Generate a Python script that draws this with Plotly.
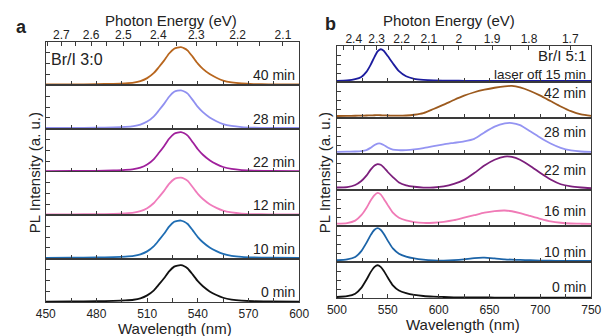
import plotly.graph_objects as go

W, H = 609, 336

# ---------------- Panel a data (Br/I 3:0) ----------------
WL_A = [450, 465, 480, 490, 497, 502, 506, 510, 514, 517, 520, 523, 526, 528,
        530, 532, 534, 537, 540, 543, 547, 551, 555, 560, 566, 573, 582, 600]
A_LABELS = ["40 min", "28 min", "22 min", "12 min", "10 min", "0 min"]
A_COLORS = ["#b8661e", "#9090f0", "#a0209c", "#f07cbc", "#1f6db3", "#111111"]
A_40 = [0.02, 0.022, 0.027, 0.035, 0.046, 0.063, 0.097, 0.166, 0.287, 0.424, 0.570, 0.734, 0.846, 0.871,
        0.880, 0.854, 0.803, 0.656, 0.502, 0.381, 0.261, 0.175, 0.110, 0.067, 0.042, 0.029, 0.023, 0.021]
A_28 = [0.015, 0.018, 0.022, 0.030, 0.041, 0.059, 0.093, 0.163, 0.285, 0.424, 0.572, 0.737, 0.850, 0.876,
        0.885, 0.859, 0.807, 0.659, 0.502, 0.380, 0.259, 0.172, 0.106, 0.063, 0.037, 0.024, 0.018, 0.016]
A_22 = [0.02, 0.023, 0.027, 0.035, 0.047, 0.065, 0.101, 0.173, 0.299, 0.443, 0.596, 0.767, 0.884, 0.911,
        0.920, 0.893, 0.839, 0.686, 0.524, 0.398, 0.272, 0.182, 0.115, 0.070, 0.043, 0.029, 0.024, 0.021]
A_12 = [0.02, 0.023, 0.027, 0.034, 0.046, 0.063, 0.097, 0.165, 0.284, 0.420, 0.564, 0.726, 0.836, 0.862,
        0.870, 0.845, 0.794, 0.649, 0.496, 0.377, 0.258, 0.173, 0.109, 0.067, 0.041, 0.029, 0.023, 0.021]
A_10 = [0.02, 0.022, 0.028, 0.036, 0.047, 0.064, 0.098, 0.168, 0.290, 0.428, 0.574, 0.738, 0.850, 0.873,
        0.880, 0.852, 0.800, 0.652, 0.499, 0.379, 0.259, 0.174, 0.109, 0.066, 0.041, 0.028, 0.022, 0.020]
A_0 = [0.01, 0.012, 0.017, 0.025, 0.036, 0.052, 0.085, 0.153, 0.270, 0.405, 0.548, 0.707, 0.816, 0.842,
       0.850, 0.825, 0.774, 0.632, 0.480, 0.363, 0.245, 0.161, 0.098, 0.056, 0.031, 0.018, 0.013, 0.011]
A_SERIES = [A_40, A_28, A_22, A_12, A_10, A_0]

# ---------------- Panel b data (Br/I 5:1) ----------------
WL_B = [500, 510, 518, 524, 529, 533, 537, 540, 543, 546, 550, 555, 561, 568, 576, 585, 595,
        605, 615, 625, 635, 645, 655, 665, 672, 680, 690, 700, 710, 720, 730, 740, 750]
B_LABELS = ["laser off 15 min", "42 min", "28 min", "22 min", "16 min", "10 min", "0 min"]
B_COLORS = ["#1c1c9e", "#9c5a1e", "#9494f2", "#7c1f7c", "#f07ab6", "#1c64a8", "#111111"]
B_OFF = [0.03, 0.045, 0.08, 0.14, 0.28, 0.47, 0.70, 0.85, 0.91, 0.87, 0.72, 0.52, 0.30, 0.16, 0.09, 0.06, 0.045,
         0.04, 0.036, 0.034, 0.033, 0.032, 0.032, 0.031, 0.031, 0.031, 0.030, 0.030, 0.030, 0.030, 0.030, 0.030, 0.030]
B_42 = [0.055, 0.058, 0.062, 0.066, 0.07, 0.074, 0.077, 0.078, 0.077, 0.074, 0.07, 0.066, 0.064, 0.07, 0.09, 0.135, 0.25,
        0.37, 0.50, 0.62, 0.715, 0.785, 0.84, 0.88, 0.89, 0.85, 0.75, 0.62, 0.47, 0.32, 0.19, 0.10, 0.06]
B_28 = [0.06, 0.065, 0.07, 0.08, 0.11, 0.17, 0.25, 0.29, 0.29, 0.25, 0.18, 0.12, 0.105, 0.11, 0.13, 0.165, 0.22,
        0.27, 0.31, 0.35, 0.42, 0.60, 0.76, 0.85, 0.86, 0.80, 0.63, 0.45, 0.29, 0.17, 0.10, 0.07, 0.06]
B_22 = [0.07, 0.08, 0.14, 0.25, 0.40, 0.56, 0.68, 0.72, 0.70, 0.63, 0.50, 0.36, 0.21, 0.13, 0.09, 0.065, 0.07,
        0.10, 0.17, 0.28, 0.47, 0.68, 0.84, 0.93, 0.92, 0.84, 0.67, 0.47, 0.29, 0.16, 0.10, 0.07, 0.05]
B_16 = [0.065, 0.08, 0.15, 0.30, 0.50, 0.70, 0.86, 0.92, 0.88, 0.76, 0.58, 0.37, 0.23, 0.155, 0.11, 0.085, 0.09,
        0.115, 0.16, 0.23, 0.30, 0.37, 0.415, 0.43, 0.41, 0.36, 0.28, 0.20, 0.13, 0.09, 0.07, 0.063, 0.06]
B_10 = [0.048, 0.071, 0.139, 0.303, 0.53, 0.74, 0.895, 0.94, 0.895, 0.785, 0.594, 0.376, 0.23, 0.15, 0.10, 0.065, 0.045,
        0.04, 0.05, 0.075, 0.11, 0.12, 0.10, 0.075, 0.065, 0.058, 0.048, 0.04, 0.035, 0.032, 0.03, 0.03, 0.03]
B_0 = [0.028, 0.05, 0.118, 0.28, 0.505, 0.712, 0.865, 0.91, 0.865, 0.757, 0.568, 0.352, 0.208, 0.136, 0.087, 0.055, 0.037,
       0.028, 0.019, 0.017, 0.015, 0.014, 0.013, 0.012, 0.012, 0.011, 0.011, 0.010, 0.010, 0.010, 0.010, 0.010, 0.010]
B_SERIES = [B_OFF, B_42, B_28, B_22, B_16, B_10, B_0]

# Photon-energy tick values (eV)
E_A = [2.75, 2.7, 2.65, 2.6, 2.55, 2.5, 2.45, 2.4, 2.35, 2.3, 2.25, 2.2, 2.15, 2.1]
E_A_TXT = ["", "2.7", "", "2.6", "", "2.5", "", "2.4", "", "2.3", "", "2.2", "", "2.1"]
E_B = [2.45, 2.4, 2.35, 2.3, 2.25, 2.2, 2.15, 2.1, 2.05, 2.0, 1.95, 1.9, 1.85, 1.8, 1.75, 1.7]
E_B_TXT = ["", "2.4", "", "2.3", "", "2.2", "", "2.1", "", "2", "", "1.9", "", "1.8", "", "1.7"]
HC = 1239.84

FONT = "Liberation Sans, Arial, sans-serif"
AXC = "#3a3a3a"
TXT = "#222222"


def fx(p):
    return p / W


def fy(p):
    return 1 - p / H


fig = go.Figure()
layout = dict(width=W, height=H, autosize=False, margin=dict(l=0, r=0, t=0, b=0, pad=0),
              paper_bgcolor="white", plot_bgcolor="white", showlegend=False,
              font=dict(family=FONT, size=12, color=TXT))

panels = [
    dict(xl=37, xr=299, top=42, bot=302, rng=[450, 600], dtick=30, minor=15, tick0=450,
         series=A_SERIES, colors=A_COLORS, wl=WL_A),
    dict(xl=338, xr=601, top=46, bot=298, rng=[500, 750], dtick=50, minor=25, tick0=500,
         series=B_SERIES, colors=B_COLORS, wl=WL_B),
]

k = 0
first_axes = []
row_bounds = []
for p in panels:
    n = len(p["series"])
    h = (p["bot"] - p["top"]) / n
    bounds = []
    for i, ys in enumerate(p["series"]):
        k += 1
        t = p["top"] + i * h
        b = t + h
        bounds.append((t, b))
        if i == 0:
            first_axes.append(k)
        xa = "xaxis" if k == 1 else f"xaxis{k}"
        ya = "yaxis" if k == 1 else f"yaxis{k}"
        layout[xa] = dict(domain=[fx(p["xl"]), fx(p["xr"])], anchor=f"y{k}", range=p["rng"],
                          showline=True, linecolor=AXC, linewidth=1.3, mirror=True,
                          ticks="inside", ticklen=4, tickwidth=1, tickcolor=AXC,
                          tick0=p["tick0"], dtick=p["dtick"],
                          minor=dict(tick0=p["tick0"], dtick=p["minor"], ticks="inside", ticklen=4,
                                     tickwidth=1, tickcolor=AXC, showgrid=False),
                          showgrid=False, zeroline=False,
                          showticklabels=(i == n - 1), tickfont=dict(size=12, color=TXT))
        layout[ya] = dict(domain=[fy(b), fy(t)], anchor=f"x{k}", range=[0, 1],
                          showline=True, linecolor=AXC, linewidth=1.3, mirror=True,
                          ticks="inside", ticklen=4, tickwidth=1, tickcolor=AXC,
                          tickvals=[0.25, 0.5, 0.75], showticklabels=False,
                          showgrid=False, zeroline=False)
        fig.add_trace(go.Scatter(x=p["wl"], y=ys, mode="lines",
                                 line=dict(color=p["colors"][i], width=1.8, shape="spline", smoothing=0.6),
                                 xaxis=f"x{k}", yaxis=f"y{k}", hoverinfo="skip"))
    row_bounds.append(bounds)

# top photon energy axes
for j, (p, E, ET) in enumerate([(panels[0], E_A, E_A_TXT), (panels[1], E_B, E_B_TXT)]):
    k += 1
    base = first_axes[j]
    layout[f"xaxis{k}"] = dict(domain=[fx(p["xl"]), fx(p["xr"])], overlaying=("x" if base == 1 else f"x{base}"),
                              anchor=("y" if base == 1 else f"y{base}"), side="top", range=p["rng"],
                              tickvals=[HC / e for e in E], ticktext=ET, ticks="inside", ticklen=4,
                              tickwidth=1, tickcolor=AXC, showline=False, showgrid=False, zeroline=False,
                              tickfont=dict(size=12, color=TXT))
    fig.add_trace(go.Scatter(x=[], y=[], mode="lines", xaxis=f"x{k}", yaxis=("y" if base == 1 else f"y{base}"),
                             hoverinfo="skip"))

ann = []


def add_text(text, x, y, size=14, xanchor="center", angle=0, bold=False):
    ann.append(dict(text=(f"<b>{text}</b>" if bold else text), x=fx(x), y=fy(y), xref="paper", yref="paper",
                    xanchor=xanchor, yanchor="middle", showarrow=False, textangle=angle,
                    font=dict(family=FONT, size=size, color=TXT)))


# panel a labels
for (t, b), lab in zip(row_bounds[0], A_LABELS):
    add_text(lab, 297, b - 10, 14, "right")
add_text("Br/I 3:0", 40, 59, 16, "left")
# panel b labels
B_LABEL_Y = [74, 93, 132, 170, 211, 252, 287]
B_LABEL_SIZE = [13.5, 14, 14, 14, 14, 14, 14]
for lab, yy, sz in zip(B_LABELS, B_LABEL_Y, B_LABEL_SIZE):
    add_text(lab, 598, yy, sz, "right")
add_text("Br/I 5:1", 598, 56, 15, "right")

add_text("Photon Energy (eV)", 166, 20, 15)
add_text("Photon Energy (eV)", 454, 20, 15)
add_text("Wavelength (nm)", 171, 328, 15)
add_text("Wavelength (nm)", 468, 324, 15)
add_text("PL Intensity (a. u.)", 26, 173, 15, angle=-90)
add_text("PL Intensity (a. u.)", 326, 173, 15, angle=-90)
add_text("a", 12, 27, 18, bold=True)
add_text("b", 331, 24, 18, bold=True)

layout["annotations"] = ann
fig.update_layout(**layout)
fig.write_html("out.html", config={"responsive": False, "displayModeBar": False},
               post_script="document.body.style.margin='0';document.body.style.overflow='hidden';")
